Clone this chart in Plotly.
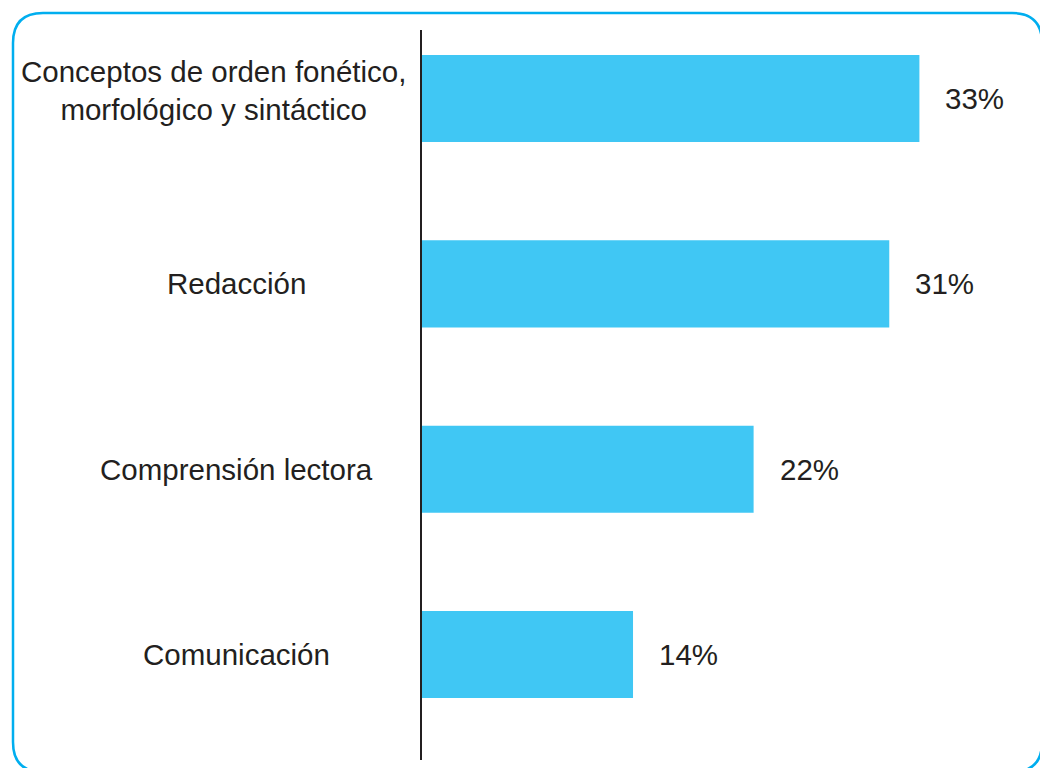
import plotly.graph_objects as go

categories = ["Conceptos de orden fonético,<br>morfológico y sintáctico",
              "Redacción", "Comprensión lectora", "Comunicación"]
values = [33, 31, 22, 14]
value_labels = ["33%", "31%", "22%", "14%"]

W, H = 1040, 768
BAR_COLOR = "#40C7F4"
TEXT_COLOR = "#231F20"
FONT = "Liberation Sans, Arial, sans-serif"
FS = 29.5


def px(x):
    """screen x pixel -> paper x"""
    return x / W


def py(y):
    """screen y pixel -> paper y"""
    return 1 - y / H


fig = go.Figure()
fig.add_trace(go.Bar(
    x=values, y=categories, orientation="h",
    marker=dict(color=BAR_COLOR, line=dict(width=0)),
    width=0.47, hoverinfo="skip", showlegend=False,
))

annotations = []
for cat, v, lab in zip(categories, values, value_labels):
    annotations.append(dict(
        x=v, y=cat, xref="x", yref="y", text=lab, showarrow=False,
        xanchor="left", yanchor="middle", xshift=24,
        font=dict(family=FONT, size=FS, color=TEXT_COLOR)))
    label_center = 213 if "<br>" in cat else 236
    annotations.append(dict(
        x=px(label_center), y=cat, xref="paper", yref="y", text=cat,
        showarrow=False, xanchor="center", yanchor="middle", align="center",
        yshift=8 if "<br>" in cat else 0,
        font=dict(family=FONT, size=FS, color=TEXT_COLOR)))

x0, y0, x1, y1, r = 13, 13, 1042, 772, 30
path = (f"M {px(x0 + r)} {py(y0)} L {px(x1 - r)} {py(y0)} "
        f"Q {px(x1)} {py(y0)} {px(x1)} {py(y0 + r)} "
        f"L {px(x1)} {py(y1 - r)} Q {px(x1)} {py(y1)} {px(x1 - r)} {py(y1)} "
        f"L {px(x0 + r)} {py(y1)} Q {px(x0)} {py(y1)} {px(x0)} {py(y1 - r)} "
        f"L {px(x0)} {py(y0 + r)} Q {px(x0)} {py(y0)} {px(x0 + r)} {py(y0)} Z")

fig.update_layout(
    width=W, height=H,
    margin=dict(l=0, r=0, t=0, b=0, autoexpand=False),
    paper_bgcolor="white", plot_bgcolor="white",
    font=dict(family=FONT, size=FS, color=TEXT_COLOR),
    xaxis=dict(domain=[px(422), 1.0], range=[0, 41], visible=False,
               showgrid=False, zeroline=False, fixedrange=True),
    yaxis=dict(domain=[py(760), py(30)], type="category",
               categoryorder="array", categoryarray=categories,
               range=[3.569, -0.37], showticklabels=False, ticks="",
               showgrid=False, zeroline=False, showline=True,
               linecolor=TEXT_COLOR, linewidth=2, fixedrange=True),
    bargap=0.53,
    annotations=annotations,
    shapes=[dict(type="path", path=path, xref="paper", yref="paper",
                 line=dict(color="#00AEEF", width=2.5), layer="below")],
)

fig.write_html(
    "out.html",
    config={"displayModeBar": False},
    post_script="document.body.style.margin='0';"
                "document.body.style.overflow='hidden';"
                "document.documentElement.style.overflow='hidden';",
)
